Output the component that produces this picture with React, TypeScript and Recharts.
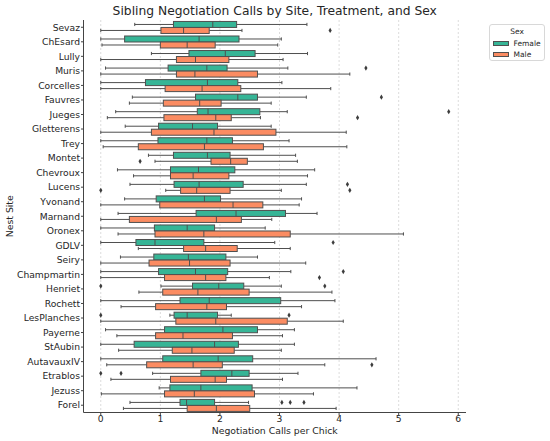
import React from 'react';
import { BarChart, Bar, XAxis, YAxis, CartesianGrid, Legend } from 'recharts';

const sites = ['Sevaz','ChEsard','Lully','Muris','Corcelles','Fauvres','Jueges','Gletterens','Trey','Montet','Chevroux','Lucens','Yvonand','Marnand','Oronex','GDLV','Seiry','Champmartin','Henriet','Rochett','LesPlanches','Payerne','StAubin','AutavauxIV','Etrablos','Jezuss','Forel'];

const femaleLow = [0.57,0,0.85,0.08,0,0.53,0.25,0.41,0,0.80,0.28,0.49,0.40,0.29,0,0,0.33,0,1.01,0,1.16,0.08,0,0,0.87,0.98,0.49];
const femaleQ1 = [1.22,0.40,1.48,1.13,0.75,1.59,1.62,0.97,0.96,1.22,1.17,1.23,0.93,1.60,0.90,0.59,0.89,0.97,1.54,1.33,1.23,1.07,0.56,1.04,1.68,1.16,1.33];
const femaleMedian = [1.88,1.65,2.09,1.78,1.79,2.30,1.80,1.54,1.78,1.79,1.64,1.65,1.74,2.27,1.45,0.91,1.47,1.59,1.98,1.82,1.45,2.05,1.91,1.97,2.20,1.68,1.44];
const femaleQ3 = [2.28,2.32,2.59,2.12,2.30,2.63,2.67,1.96,2.21,2.17,2.25,2.39,2.01,3.10,1.91,1.73,2.10,2.13,2.40,3.02,1.96,2.63,2.31,2.55,2.49,2.54,1.91];
const femaleHigh = [3.46,3.03,3.47,3.14,3.04,3.45,3.13,2.86,3.16,3.27,3.59,3.45,3.37,3.63,2.76,2.92,2.63,3.19,3.03,3.93,2.19,3.25,3.25,4.62,3.31,4.30,2.48];
const femaleOutliers: number[][] = [[],[],[],[4.45],[],[4.71],[5.84],[],[],[],[],[4.14],[],[],[],[3.90],[],[4.07],[0,3.76],[],[0,3.16],[],[],[],[0,0.34],[],[3.04,3.18,3.41]];

const maleLow = [0,0.02,0,0,0,0.48,0.11,0,0.04,0.91,0.55,1.09,0,0,0.29,0.63,0,0,0.64,0.34,0,0.27,0.30,0.10,0.17,0.01,0.38];
const maleQ1 = [1.01,1.00,1.27,1.27,1.08,1.05,1.06,0.85,0.63,1.85,1.17,1.34,0.99,0.48,0.91,1.39,0.81,1.07,1.04,0.92,1.26,0.92,1.20,0.77,1.17,1.07,1.45];
const maleMedian = [1.39,1.45,1.59,1.58,1.70,1.66,1.93,1.90,1.74,2.18,1.55,1.61,2.22,1.94,1.73,1.76,1.49,1.76,1.63,1.78,1.93,1.38,1.53,1.55,1.92,1.57,1.94];
const maleQ3 = [1.82,1.92,2.15,2.63,2.35,2.02,2.19,2.94,2.73,2.46,2.15,2.17,2.72,2.36,3.18,2.29,2.17,2.10,2.49,2.11,3.13,2.21,2.24,2.04,2.11,2.58,2.50];
const maleHigh = [2.37,2.97,3.06,4.18,3.86,2.86,2.68,4.12,4.13,3.30,3.47,3.03,3.33,2.87,5.08,3.18,3.44,2.83,3.88,3.37,4.07,3.05,3.03,3.76,3.05,3.57,3.95];
const maleOutliers: number[][] = [[3.85],[],[],[],[],[],[4.31],[],[],[0.66],[],[0,4.18],[],[],[],[],[],[3.67],[],[],[],[],[],[4.55],[],[],[]];

const xTicks = [0, 1, 2, 3, 4, 5, 6];
const xDomain: [number, number] = [-0.29, 6.13];

const FEMALE = '#36b596';
const MALE = '#fb8c62';
const EDGE = '#4f4f4f';
const TEXT = '#262626';
const FONT = 'DejaVu Sans';

type Stats = { lo: number; q1: number; med: number; q3: number; hi: number; out: number[] };

const data = sites.map((site, i) => ({
  site,
  female: { lo: femaleLow[i], q1: femaleQ1[i], med: femaleMedian[i], q3: femaleQ3[i], hi: femaleHigh[i], out: femaleOutliers[i] } as Stats,
  male: { lo: maleLow[i], q1: maleQ1[i], med: maleMedian[i], q3: maleQ3[i], hi: maleHigh[i], out: maleOutliers[i] } as Stats,
}));

const extent = (s: Stats): [number, number] => [Math.min(s.lo, ...s.out), Math.max(s.hi, ...s.out)];

const makeShape = (key: 'female' | 'male', color: string) => (props: any) => {
  const { x, y, width, height, payload } = props;
  const s: Stats = payload[key];
  const [a, b] = extent(s);
  const px = (v: number) => x + ((v - a) / (b - a)) * width;
  const cy = y + height / 2;
  const capH = 1.6;
  return (
    <g>
      <line x1={px(s.lo)} x2={px(s.q1)} y1={cy} y2={cy} stroke={EDGE} strokeWidth={1} />
      <line x1={px(s.q3)} x2={px(s.hi)} y1={cy} y2={cy} stroke={EDGE} strokeWidth={1} />
      <line x1={px(s.lo)} x2={px(s.lo)} y1={cy - capH} y2={cy + capH} stroke={EDGE} strokeWidth={1} />
      <line x1={px(s.hi)} x2={px(s.hi)} y1={cy - capH} y2={cy + capH} stroke={EDGE} strokeWidth={1} />
      <rect x={px(s.q1)} y={y} width={px(s.q3) - px(s.q1)} height={height} fill={color} stroke={EDGE} strokeWidth={1} />
      <line x1={px(s.med)} x2={px(s.med)} y1={y} y2={y + height} stroke={EDGE} strokeWidth={1} />
      {s.out.map((o, j) => {
        const ox = px(o);
        return <path key={j} d={`M${ox},${cy - 2.6} L${ox + 1.6},${cy} L${ox},${cy + 2.6} L${ox - 1.6},${cy} Z`} fill="#3d3d3d" />;
      })}
    </g>
  );
};

const LegendBox = () => (
  <div style={{ width: 56, height: 37, border: '1px solid #d8d8d8', borderRadius: 3, boxSizing: 'border-box', background: '#fff', position: 'relative', fontFamily: FONT, fontSize: 7.5, color: TEXT }}>
    <div style={{ position: 'absolute', left: 0, width: 54, top: 1.5, textAlign: 'center', lineHeight: '9px' }}>Sex</div>
    <div style={{ position: 'absolute', left: 2.5, top: 15.8, width: 16, height: 5, background: FEMALE, border: `1px solid ${EDGE}`, boxSizing: 'border-box' }} />
    <div style={{ position: 'absolute', left: 23.5, top: 13.5, lineHeight: '9px' }}>Female</div>
    <div style={{ position: 'absolute', left: 2.5, top: 27.2, width: 16, height: 5, background: MALE, border: `1px solid ${EDGE}`, boxSizing: 'border-box' }} />
    <div style={{ position: 'absolute', left: 23.5, top: 25, lineHeight: '9px' }}>Male</div>
  </div>
);

const tickStyle = { fontSize: 9.2, fill: TEXT, fontFamily: FONT };

const gridX = (props: any) => {
  const off = props.offset;
  const [a, b] = xDomain;
  return xTicks.map((t) => off.left + ((t - a) / (b - a)) * off.width);
};

export default function App() {
  return (
    <div style={{ position: 'absolute', left: 0, top: 0, width: 550, height: 441, background: '#fff' }}>
      <BarChart
        width={550}
        height={441}
        data={data}
        layout="vertical"
        margin={{ top: 20, right: 84, left: 0, bottom: 0 }}
        barCategoryGap="10%"
        barGap={0}
      >
        <CartesianGrid horizontal={false} vertical={true} stroke="#dcdcdc" strokeDasharray="2 2" verticalCoordinatesGenerator={gridX} />
        <XAxis
          type="number"
          domain={xDomain}
          ticks={xTicks}
          allowDataOverflow
          height={28.5}
          tick={tickStyle}
          tickSize={3}
          tickMargin={0}
          axisLine={{ stroke: '#444' }}
          tickLine={{ stroke: '#444' }}
          label={{ value: 'Negotiation Calls per Chick', position: 'insideBottom', offset: 7, style: { fontSize: 9.3, fill: TEXT, fontFamily: FONT } }}
        />
        <YAxis
          type="category"
          dataKey="site"
          width={83.5}
          interval={0}
          tick={tickStyle}
          tickSize={2.5}
          tickMargin={1}
          axisLine={{ stroke: '#444' }}
          tickLine={{ stroke: '#444' }}
          label={{
            content: (p: any) => {
              const vb = p.viewBox || { y: 20, height: 392.5 };
              const cy = vb.y + vb.height / 2;
              return (
                <text x={9} y={cy} transform={`rotate(-90, 9, ${cy})`} textAnchor="middle" dominantBaseline="central" fontSize={9.3} fill={TEXT} fontFamily={FONT}>
                  Nest Site
                </text>
              );
            },
          }}
        />
        <Legend
          layout="horizontal"
          verticalAlign="middle"
          align="center"
          content={() => <LegendBox />}
          wrapperStyle={{ position: 'absolute', left: 489, top: 24, width: 56, height: 37 }}
        />
        <Bar name="Female" dataKey={(d: any) => extent(d.female)} shape={makeShape('female', FEMALE)} isAnimationActive={false} />
        <Bar name="Male" dataKey={(d: any) => extent(d.male)} shape={makeShape('male', MALE)} isAnimationActive={false} />
      </BarChart>
      <svg width={550} height={441} style={{ position: 'absolute', left: 0, top: 0, pointerEvents: 'none' }}>
        <text x={274.75} y={15.3} textAnchor="middle" fontSize={12.3} fill={TEXT} fontFamily={FONT}>
          Sibling Negotiation Calls by Site, Treatment, and Sex
        </text>
      </svg>
    </div>
  );
}
